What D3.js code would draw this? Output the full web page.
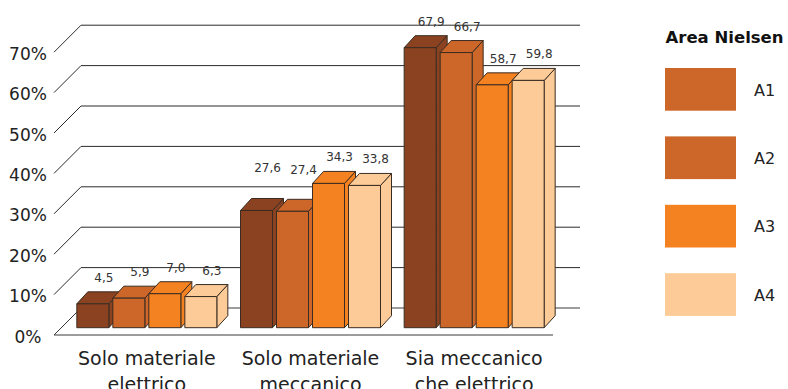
<!DOCTYPE html>
<html>
<head>
<meta charset="utf-8">
<script src="https://cdn.jsdelivr.net/npm/d3@7"></script>
<style>
  html, body { margin: 0; padding: 0; background: #fff; }
  svg { display: block; font-family: "DejaVu Sans", sans-serif; }
</style>
</head>
<body>
<svg id="chart" width="788" height="389"></svg>
<script>
// ---- data ----
const categories = [["Solo materiale", "elettrico"], ["Solo materiale", "meccanico"], ["Sia meccanico", "che elettrico"]];
const series = ["A1", "A2", "A3", "A4"];
const valuesA1 = [4.5, 27.6, 67.9];
const valuesA2 = [5.9, 27.4, 66.7];
const valuesA3 = [7.0, 34.3, 58.7];
const valuesA4 = [6.3, 33.8, 59.8];
const yTicks = [0, 10, 20, 30, 40, 50, 60, 70];
const seriesColors = ["#8B4220", "#CC6629", "#F58220", "#FCCB97"];
const legendColors = ["#CC6629", "#CC6629", "#F58220", "#FCCB97"];
const legendTitle = "Area Nielsen";

const valuesBySeries = [valuesA1, valuesA2, valuesA3, valuesA4];

// ---- layout ----
const svg = d3.select("#chart");
const depthX = 27, depthY = 27;          // floor depth
const barDX = 11, barDY = 12;            // bar 3D offsets
const barInset = 7.3;                    // bar front position into floor
const barTopShift = 13;
const floorLeft = 54, floorRight = 553;
// extra lift of a few labels (collision avoidance in the original)
const labelLift = { "1-0": 16, "1-1": 15 };

const y = d3.scaleLinear().domain([0, 70]).range([335, 52.2]);
const x0 = d3.scaleBand().domain(d3.range(categories.length)).range([65, 556]);
const groupW = 140;
const x1 = d3.scaleBand().domain(series).range([0, groupW]).paddingInner(4 / 36);

const fmt = v => d3.format(".1f")(v).replace(".", ",");

// gridlines (with left diagonals)
const grid = svg.append("g").attr("stroke", "#2b2b2b").attr("stroke-width", 1).attr("fill", "none");
yTicks.forEach(t => {
  if (t === 0) return;
  grid.append("path")
    .attr("d", `M${floorLeft},${y(t)}L${floorLeft + depthX},${y(t) - depthY}L${floorRight + depthX},${y(t) - depthY}`);
});
// floor
grid.append("path")
  .attr("d", `M${floorRight},${y(0)}L${floorLeft},${y(0)}L${floorLeft + depthX},${y(0) - depthY}L${floorRight + depthX},${y(0) - depthY}`)
  .attr("stroke", "#3a3a3a");

// y tick labels
svg.append("g").selectAll("text").data(yTicks).join("text")
  .attr("x", 28).attr("y", d => y(d) + 7.5)
  .attr("text-anchor", "middle")
  .attr("font-size", 17).attr("fill", "#222")
  .text(d => d + "%");

// bars
const bars = svg.append("g");
categories.forEach((cat, ci) => {
  const gx = x0(ci) + (x0.bandwidth() - groupW) / 2;
  series.forEach((s, si) => {
    const v = valuesBySeries[si][ci];
    const x = gx + x1(s);
    const w = x1.bandwidth();
    const top = y(v) - barTopShift;
    const bottom = y(0) - barInset;
    const g = bars.append("g").attr("fill", seriesColors[si])
      .attr("stroke", "#3a2c22").attr("stroke-width", 1).attr("stroke-linejoin", "round");
    g.append("path").attr("d", `M${x + w},${top}L${x + w + barDX},${top - barDY}L${x + w + barDX},${bottom - barDY}L${x + w},${bottom}Z`);
    g.append("path").attr("d", `M${x},${top}L${x + barDX},${top - barDY}L${x + w + barDX},${top - barDY}L${x + w},${top}Z`);
    g.append("rect").attr("x", x).attr("y", top).attr("width", w).attr("height", bottom - top);
    const lift = labelLift[ci + "-" + si] || 0;
    svg.append("text")
      .attr("x", x + w / 2 + 11).attr("y", top - 22 - lift)
      .attr("text-anchor", "middle").attr("font-size", 12).attr("fill", "#333")
      .text(fmt(v));
  });
  // category label
  const cx = gx + groupW / 2;
  const t = svg.append("text").attr("text-anchor", "middle").attr("font-size", 19).attr("fill", "#222");
  cat.forEach((line, li) => {
    t.append("tspan").attr("x", cx).attr("y", 365 + li * 25.5).text(line);
  });
});

// legend
const lg = svg.append("g");
lg.append("text").attr("x", 665.5).attr("y", 43.3).attr("font-size", 16.5).attr("font-weight", "bold")
  .attr("fill", "#111").text(legendTitle);
series.forEach((s, i) => {
  const yy = 68 + i * 68.4;
  lg.append("rect").attr("x", 665).attr("y", yy).attr("width", 71).attr("height", 42.7).attr("fill", legendColors[i]);
  lg.append("text").attr("x", 754).attr("y", yy + 27.5).attr("font-size", 16).attr("fill", "#222").text(s);
});
</script>
</body>
</html>
